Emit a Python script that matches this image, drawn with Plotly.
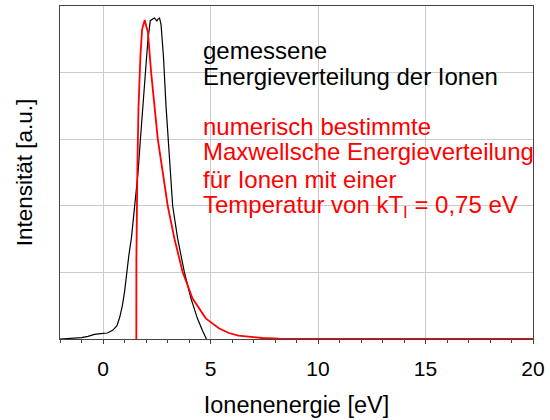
import plotly.graph_objects as go

# Measured ion energy distribution (eV, arbitrary units)
meas_energy = [-2.0, -1.5, -1.0, -0.7, -0.4, -0.1, 0.2, 0.45, 0.65, 0.78, 0.9, 1.0,
               1.09, 1.2, 1.32, 1.47, 1.63, 1.74, 1.86, 1.98, 2.09, 2.2, 2.3, 2.38,
               2.45, 2.5, 2.55, 2.63, 2.7, 2.81, 2.93, 3.09, 3.24, 3.47, 3.78,
               4.09, 4.39, 4.62, 4.81]
meas_intensity = [0.0, 0.01, 0.02, 0.04, 0.07, 0.08, 0.09, 0.13, 0.2, 0.33, 0.5, 0.7,
                  1.0, 1.25, 1.51, 2.0, 2.5, 3.0, 3.5, 4.0, 4.5, 4.78, 4.81, 4.82,
                  4.8, 4.77, 4.8, 4.82, 4.72, 4.25, 3.5, 2.75, 2.0, 1.51, 1.01,
                  0.61, 0.31, 0.13, 0.0]

# Numerically determined Maxwellian distribution, kT = 0.75 eV
maxw_energy = [1.55, 1.553, 1.6, 1.65, 1.74, 1.82, 1.94, 2.09, 2.24, 2.4, 2.55, 2.78,
               3.01, 3.32, 3.7, 4.16, 4.78, 5.39, 5.85, 6.3, 6.8, 7.4, 8.2, 9.5,
               12.0, 15.0, 20.0]
maxw_intensity = [0.0, 1.21, 2.6, 3.46, 4.25, 4.65, 4.79, 4.6, 4.0, 3.5, 3.0, 2.5,
                  2.0, 1.51, 1.01, 0.61, 0.31, 0.16, 0.09, 0.05, 0.03, 0.015, 0.005, 0.0,
                  0.0, 0.0, 0.0]

x_ticks = [0, 5, 10, 15, 20]

FONT = "Liberation Sans, Arial, sans-serif"

fig = go.Figure()
fig.add_trace(go.Scatter(x=meas_energy, y=meas_intensity, mode="lines",
                         line=dict(color="black", width=1.2), showlegend=False))
fig.add_trace(go.Scatter(x=maxw_energy, y=maxw_intensity, mode="lines",
                         line=dict(color="#ff0000", width=1.8), showlegend=False))

black_lines = [("gemessene", 4.33), ("Energieverteilung der Ionen", 3.94)]
red_lines = [("numerisch bestimmte", 3.19),
             ("Maxwellsche Energieverteilung", 2.81),
             ("für Ionen mit einer", 2.40),
             ("Temperatur von kT<sub>I</sub> = 0,75 eV", 1.99)]
for text, yv in black_lines:
    fig.add_annotation(x=4.58, y=yv, text=text, showarrow=False, xanchor="left",
                       yanchor="middle", font=dict(family=FONT, size=24, color="black"))
for text, yv in red_lines:
    fig.add_annotation(x=4.58, y=yv, text=text, showarrow=False, xanchor="left",
                       yanchor="middle", font=dict(family=FONT, size=24, color="#ff0000"))

fig.update_layout(
    width=550, height=420,
    margin=dict(l=60, r=13, t=5, b=81),
    paper_bgcolor="white", plot_bgcolor="white",
    font=dict(family=FONT, size=22, color="black"),
    xaxis=dict(range=[-2, 20], tickvals=x_ticks, showgrid=True, gridcolor="#cccccc",
               gridwidth=1, zeroline=False, showline=True, linecolor="#444444",
               linewidth=1, mirror=True, ticks="outside", ticklen=4, tickcolor="#444444",
               minor=dict(dtick=1, ticks="outside", ticklen=3, tickcolor="#444444",
                          showgrid=False),
               tickfont=dict(size=21), ticklabelstandoff=7,
               title=dict(text="Ionenenergie [eV]", font=dict(size=23.5), standoff=17)),
    yaxis=dict(range=[0, 5], dtick=1, showgrid=True, gridcolor="#cccccc", gridwidth=1,
               zeroline=False, showline=True, linecolor="#444444", linewidth=1,
               mirror=True, showticklabels=False, ticks="",
               title=dict(text="Intensität [a.u.]", font=dict(size=22.5), standoff=20)),
)

fig.write_html("out.html")
